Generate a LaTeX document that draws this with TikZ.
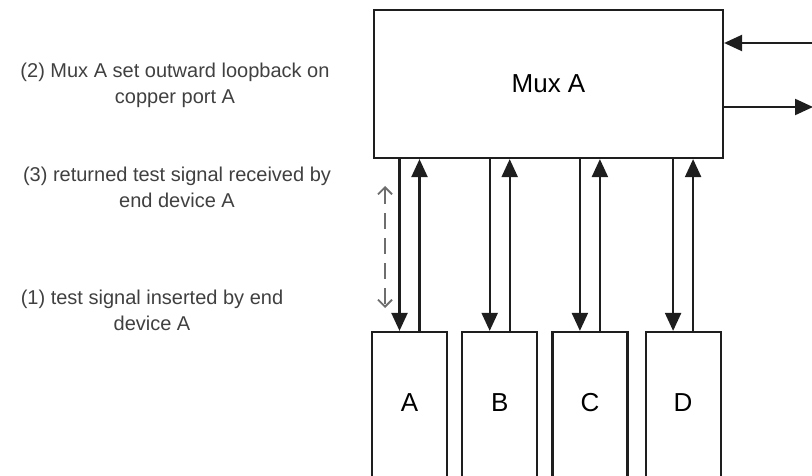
\documentclass[tikz,border=0pt]{standalone}
\usepackage{fontspec}
\setmainfont{Liberation Sans}
\usetikzlibrary{arrows.meta,positioning,calc}
\definecolor{LineGray}{RGB}{30,30,30}
\definecolor{DashGray}{RGB}{110,110,110}
\tikzset{
  muxbox/.style={draw=LineGray,line width=2.2pt,fill=white,
                 minimum width=349pt,minimum height=148pt,
                 font=\fontsize{26}{30}\selectfont,text centered},
  devbox/.style={draw=LineGray,line width=2.2pt,fill=white,
                 minimum width=75pt,minimum height=176pt,
                 font=\fontsize{26}{30}\selectfont,text centered},
  note/.style={align=center,font=\fontsize{20}{26}\selectfont,text=black!75},
  sig/.style={-{Triangle[length=18pt,width=16pt]},LineGray,line width=2.2pt},
  loop/.style={{Straight Barb[length=7pt,width=14pt]}-{Straight Barb[length=7pt,width=14pt]},
               DashGray,line width=1.8pt,dash pattern=on 16pt off 9pt},
}

\begin{document}
\begin{tikzpicture}[x=1pt,y=-1pt]
  \clip (0,0) rectangle (812,476);
  \node[muxbox] (mux) at (548.5,84) {Mux A};
  \node[devbox] (devA) at (409.5,420) {};
  \node[devbox, right=13pt of devA] (devB) {};
  \node[devbox, right=13pt of devB] (devC) {};
  \node[devbox, right=16pt of devC] (devD) {};
  \node at ($(devA.center)+(0,-17)$) (labA) {\fontsize{26}{30}\selectfont A};
  \node at ($(devB.center)+(0,-17)$) (labB) {\fontsize{26}{30}\selectfont B};
  \node at ($(devC.center)+(0,-17)$) (labC) {\fontsize{26}{30}\selectfont C};
  \node at ($(devD.center)+(0,-17)$) (labD) {\fontsize{26}{30}\selectfont D};

  % down and up links between mux and end devices
  \foreach \d in {A,B,C,D} {
    \draw[sig] ($(mux.south -| dev\d.north)+(-10,0)$) -- ($(dev\d.north)+(-10,0)$);
    \draw[sig] ($(dev\d.north)+(10,0)$) -- ($(mux.south -| dev\d.north)+(10,0)$);
  }

  % trunk side
  \coordinate (trunkIn) at (812,43);
  \coordinate (trunkOut) at (813,107);
  \draw[sig] (trunkIn) -- (trunkIn -| mux.east);
  \draw[sig] (trunkOut -| mux.east) -- (trunkOut);

  % loopback path
  \coordinate (loopT) at (385,186);
  \coordinate (loopB) at (385,308);
  \draw[loop] (loopT) -- (loopB);

  \node[note] (step2) at (175,85) {(2) Mux A set outward loopback on\\copper port A};
  \node[note] (step3) at (177,187) {(3) returned test signal received by\\end device A};
  \node[note] (step1) at (152,310) {(1) test signal inserted by end\\device A};
\end{tikzpicture}
\end{document}
